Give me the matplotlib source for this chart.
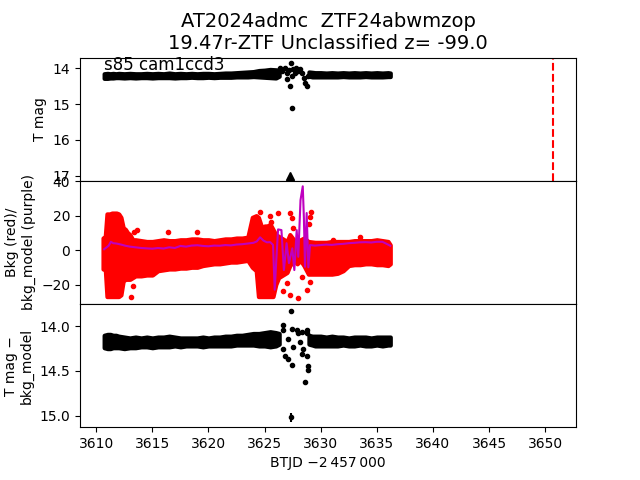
import matplotlib
matplotlib.use("Agg")
import matplotlib.pyplot as plt

# black bands: sampled envelope of the dense photometry (BTJD - 2457000)
band_t = [3610.7, 3611.0, 3611.25, 3611.5, 3611.75, 3612.0, 3612.5, 3613.0, 3613.5, 3614.0,
          3614.5, 3615.0, 3615.5, 3616.0, 3616.5, 3617.0, 3617.5, 3618.0, 3618.5, 3619.0,
          3619.5, 3620.0, 3620.5, 3621.0, 3621.5, 3622.0, 3622.5, 3623.0, 3623.5, 3624.0,
          3624.5, 3625.0, 3625.5, 3626.0, 3626.3, 3628.95, 3629.25, 3629.5, 3630.0, 3630.5,
          3631.0, 3631.5, 3632.0, 3632.5, 3633.0, 3633.5, 3634.0, 3634.5, 3635.0, 3635.5,
          3636.0, 3636.2]
mag_lo = [14.15, 14.14, 14.15, 14.14, 14.15, 14.14, 14.15, 14.14, 14.15, 14.15,
          14.14, 14.15, 14.14, 14.15, 14.13, 14.15, 14.14, 14.15, 14.14, 14.15,
          14.14, 14.14, 14.15, 14.14, 14.13, 14.13, 14.12, 14.11, 14.10, 14.09,
          14.06, 14.05, 14.03, 14.04, 14.05, 14.10, 14.11, 14.12, 14.12, 14.13,
          14.12, 14.13, 14.12, 14.13, 14.12, 14.13, 14.12, 14.13, 14.12, 14.13,
          14.12, 14.13]
mag_hi = [14.28, 14.28, 14.27, 14.27, 14.26, 14.26, 14.27, 14.26, 14.27, 14.26,
          14.26, 14.27, 14.26, 14.26, 14.26, 14.27, 14.26, 14.26, 14.25, 14.26,
          14.26, 14.25, 14.26, 14.25, 14.25, 14.25, 14.24, 14.24, 14.24, 14.23,
          14.24, 14.25, 14.26, 14.27, 14.22, 14.22, 14.24, 14.24, 14.24, 14.24,
          14.24, 14.24, 14.23, 14.24, 14.24, 14.24, 14.23, 14.24, 14.24, 14.24,
          14.23, 14.23]
diff_lo = [14.10, 14.09, 14.09, 14.10, 14.10, 14.11, 14.12, 14.13, 14.12, 14.13,
           14.12, 14.13, 14.12, 14.12, 14.11, 14.12, 14.13, 14.13, 14.13, 14.13,
           14.12, 14.13, 14.12, 14.12, 14.11, 14.11, 14.10, 14.10, 14.09, 14.08,
           14.08, 14.07, 14.06, 14.07, 14.08, 14.10, 14.11, 14.11, 14.11, 14.12,
           14.11, 14.12, 14.12, 14.13, 14.12, 14.12, 14.12, 14.13, 14.12, 14.12,
           14.12, 14.12]
diff_hi = [14.24, 14.25, 14.25, 14.24, 14.24, 14.24, 14.25, 14.24, 14.24, 14.23,
           14.23, 14.24, 14.23, 14.23, 14.23, 14.22, 14.23, 14.22, 14.22, 14.22,
           14.23, 14.22, 14.22, 14.22, 14.22, 14.22, 14.21, 14.21, 14.21, 14.21,
           14.22, 14.22, 14.23, 14.22, 14.20, 14.20, 14.21, 14.22, 14.22, 14.22,
           14.22, 14.22, 14.21, 14.22, 14.22, 14.21, 14.22, 14.22, 14.21, 14.22,
           14.21, 14.21]

# scattered points during the disturbed stretch
mag_t = [3626.37, 3626.52, 3626.8, 3626.96, 3626.96, 3627.2, 3627.26, 3627.32, 3627.41, 3627.41,
         3627.55, 3627.7, 3627.8, 3628.0, 3628.15, 3628.3, 3628.5, 3628.6, 3628.75, 3628.9]
mag_v = [13.98, 14.08, 14.0, 14.12, 14.31, 14.06, 14.5, 13.84, 14.22, 15.1,
         14.03, 14.12, 13.98, 14.08, 14.03, 14.12, 14.26, 14.4, 14.5, 14.22]
lim_t = [3627.3]
lim_v = [17.0]

diff_t = [3626.66, 3626.66, 3626.66, 3626.8, 3627.1, 3627.1, 3627.32, 3627.41, 3627.41, 3627.55,
          3627.86, 3628.0, 3628.15, 3628.3, 3628.3, 3628.45, 3628.6, 3628.75, 3628.75, 3628.75,
          3628.84, 3628.9]
diff_v = [13.99, 14.045, 14.25, 14.33, 14.14, 14.37, 13.83, 14.03, 14.43, 14.23,
          14.045, 14.08, 14.18, 14.06, 14.31, 14.25, 14.62, 14.045, 14.08, 14.33,
          14.49, 14.44]
out_t = [3627.35]
out_v = [15.02]
out_err = [0.05]

# background (red): envelope of the dense points
bkg_t = [3610.6, 3610.8, 3610.95, 3611.2, 3611.4, 3611.6, 3611.8, 3612.0, 3612.2, 3612.4,
         3612.6, 3612.8, 3613.0, 3613.25, 3613.5, 3614.0, 3614.5, 3615.0, 3615.5, 3616.0,
         3616.5, 3617.0, 3617.5, 3618.0, 3618.5, 3619.0, 3619.5, 3620.0, 3620.5, 3621.0,
         3621.5, 3622.0, 3622.5, 3623.0, 3623.5, 3623.9, 3624.25, 3624.45, 3624.75, 3625.0,
         3625.25, 3625.5, 3625.75, 3626.0, 3626.25, 3626.5, 3626.75, 3627.0, 3627.25, 3627.6,
         3627.9, 3628.2, 3628.5, 3628.9, 3629.5, 3630.0, 3630.5, 3631.0, 3631.5, 3632.0,
         3632.5, 3633.0, 3633.5, 3634.0, 3634.5, 3635.0, 3635.5, 3636.0, 3636.2]
bkg_lo = [-11, -11, -27, -27, -27, -27, -27, -27, -26, -18,
          -17, -17, -17, -16, -15, -15, -14.5, -14.5, -12, -11.5,
          -11, -11, -10.5, -10.5, -10, -10, -9, -8.5, -8, -8,
          -7.5, -7, -7, -6.5, -6, -10, -12, -27, -27, -27,
          -27, -27, -27, -20, -16, -15, -14, -13, -9, -6,
          -8, -6, -9, -14, -14, -14, -14, -14, -13.5, -12,
          -9, -8.5, -8.5, -8, -8, -8.5, -8.5, -9, -8]
bkg_hi = [7, 8, 21, 21, 21.5, 21.5, 21.5, 21, 19, 13,
          12, 10, 9, 6, 6, 5.5, 5, 5, 5.5, 6,
          5.5, 5.5, 6, 6, 6.5, 6.5, 6, 6, 5.5, 6,
          6.5, 6.5, 7, 7, 7.5, 19, 20, 19, 13, 14,
          14, 15, 12, 9, 8, 7, 6, 5, 9, 6,
          4, 6, 7, 5, 4.5, 4.5, 4.5, 5, 5, 5,
          5, 5.5, 5.5, 5.5, 5.5, 6, 5.5, 5, 3]
bkgpt_t = [3613.1, 3613.3, 3613.4, 3613.6, 3616.4, 3619.0, 3624.6, 3625.2, 3625.5, 3625.6,
           3626.2, 3626.6, 3627.0, 3627.26, 3627.26, 3627.4, 3627.55, 3628.0, 3628.3, 3628.75,
           3629.0, 3629.05, 3629.05, 3629.1, 3631.1, 3633.5]
bkgpt_v = [-27, -21, 10.6, 11.6, 10.3, 10.4, 22, 13.5, 20, 16,
           21.5, -24, -19.3, 21.3, -26, 18.4, 12.6, -28, -15.5, -23,
           15, 19, -18.4, 22.2, 5.8, 7.7]

# background model (purple)
model_t = [3610.7, 3610.9, 3611.1, 3611.3, 3611.5, 3611.8, 3612.2, 3612.6, 3613.0, 3613.5,
           3614.0, 3614.5, 3615.0, 3615.5, 3616.0, 3616.5, 3617.0, 3617.5, 3618.0, 3618.5,
           3619.0, 3619.5, 3620.0, 3620.5, 3621.0, 3621.5, 3622.0, 3622.5, 3623.0, 3623.5,
           3624.0, 3624.3, 3624.6, 3624.9, 3625.2, 3625.5, 3625.75, 3625.9, 3626.05, 3626.2,
           3626.5, 3626.72, 3626.96, 3627.17, 3627.47, 3627.65, 3627.86, 3628.0, 3628.2, 3628.4,
           3628.5, 3628.6, 3628.75, 3628.9, 3629.05, 3629.5, 3630.0, 3630.5, 3631.0, 3631.5,
           3632.0, 3632.5, 3633.0, 3633.5, 3634.0, 3634.5, 3635.0, 3635.5, 3636.0, 3636.2]
model_v = [0.5, 1.5, 2.5, 4.8, 4.0, 3.8, 3.2, 2.5, 2.0, 1.6,
           1.2, 1.0, 0.8, 1.2, 0.9, 1.6, 1.2, 2.4, 2.0, 2.6,
           2.8, 2.4, 2.2, 2.6, 2.5, 2.9, 2.7, 3.2, 3.4, 3.8,
           4.2, 5.0, 7.4, 5.5, 4.5, 4.6, 3.0, -23, -5, 12,
           11.6, -11.6, 4, -7.6, 1, -11.6, 11.6, -3.9, 29, 37,
           19, -9.7, 21.5, -10, 2.9, 2.6, 2.9, 3.2, 3.0, 3.4,
           3.6, 4.0, 4.2, 4.5, 4.6, 4.4, 4.8, 4.8, 3.2, 2.5]

alert_t = 3650.7


def draw_band(ax, t, lo, hi, color):
    # envelope of the point cloud; thick round edge stands in for the marker radius
    start = 0
    for i in range(1, len(t) + 1):
        if i == len(t) or t[i] - t[i - 1] > 1:
            ax.fill_between(t[start:i], lo[start:i], hi[start:i], facecolor=color,
                            edgecolor=color, lw=3, joinstyle="round", capstyle="round")
            start = i


fig, axes = plt.subplots(3, 1, sharex=True, figsize=(6.4, 4.8), dpi=100)
fig.subplots_adjust(hspace=0)

ax = axes[0]
draw_band(ax, band_t, mag_lo, mag_hi, "k")
ax.plot(mag_t, mag_v, "k.", ls="none")
ax.plot(lim_t, lim_v, "k^", ls="none")
ax.axvline(alert_t, color="red", ls="--", lw=1.5)
ax.text(3610.7, 14.05, "s85 cam1ccd3", fontsize=12)
ax.set_ylim(17.14, 13.7)
ax.set_ylabel("T mag")
ax.set_title("AT2024admc  ZTF24abwmzop\n19.47r-ZTF Unclassified z= -99.0", fontsize=14)

ax = axes[1]
draw_band(ax, bkg_t, bkg_lo, bkg_hi, "red")
ax.plot(bkgpt_t, bkgpt_v, ".", color="red", ls="none")
ax.plot(model_t, model_v, color="m", lw=1.5)
ax.set_ylim(-31.3, 40.2)
ax.set_ylabel("Bkg (red)/\nbkg_model (purple)")

ax = axes[2]
draw_band(ax, band_t, diff_lo, diff_hi, "k")
ax.plot(diff_t, diff_v, "k.", ls="none")
ax.errorbar(out_t, out_v, yerr=out_err, fmt="k.")
ax.set_ylim(15.13, 13.75)
ax.set_ylabel("T mag \u2212\nbkg_model")
ax.set_xlabel("BTJD \u22122\u2009457\u2009000")
ax.set_xlim(3608.55, 3652.75)

fig.savefig("out.png")
